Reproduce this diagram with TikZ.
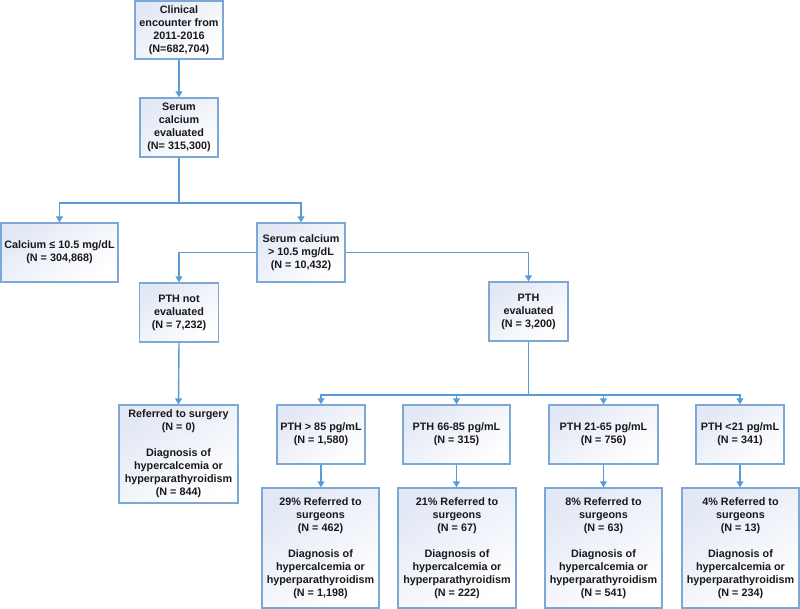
\documentclass[tikz,border=0pt]{standalone}
\usepackage{fontspec}
\setmainfont{Liberation Sans}
\usetikzlibrary{arrows.meta}
\definecolor{linec}{RGB}{91,155,213}
\definecolor{boxline}{RGB}{125,168,214}
\definecolor{boxfill}{RGB}{226,232,245}
\tikzset{
  box/.style={draw=boxline, line width=1.4pt, top color=boxfill, bottom color=white, shading angle=35,
    align=center, inner sep=0pt, font=\fontsize{10.8}{13}\selectfont\bfseries, text=black!90},
  conn/.style={draw=linec, line width=1.4pt},
  arr/.style={conn, -{Triangle[width=7pt,length=6pt]}}
}
\begin{document}
\begin{tikzpicture}[x=1pt,y=-1pt]
\useasboundingbox (0,0) rectangle (800,609);
\node[box, minimum width=88, minimum height=58] (n1) at (179,30) {Clinical\\encounter from\\2011-2016\\(N=682,704)};
\node[box, minimum width=78, minimum height=59] (n2) at (179,127.5) {Serum\\calcium\\evaluated\\(N= 315,300)};
\node[box, minimum width=117, minimum height=59] (n3) at (59.5,252.5) {Calcium ≤ 10.5 mg/dL\\(N = 304,868)};
\node[box, minimum width=88, minimum height=59] (n4) at (301,252.5) {Serum calcium\\> 10.5 mg/dL\\(N = 10,432)};
\node[box, minimum width=79, minimum height=59] (n5) at (179,312.5) {PTH not\\evaluated\\(N = 7,232)};
\node[box, minimum width=79, minimum height=59] (n6) at (528.5,311.5) {PTH\\evaluated\\(N = 3,200)};
\node[box, minimum width=119, minimum height=98] (n7) at (178.5,454) {Referred to surgery\\(N = 0)\\[13pt]Diagnosis of\\hypercalcemia or\\hyperparathyroidism\\(N = 844)};
\node[box, minimum width=88, minimum height=59] (n8) at (321,434.5) {PTH > 85 pg/mL\\(N = 1,580)};
\node[box, minimum width=107, minimum height=59] (n9) at (456.5,434.5) {PTH 66-85 pg/mL\\(N = 315)};
\node[box, minimum width=109, minimum height=59] (n10) at (603.5,434.5) {PTH 21-65 pg/mL\\(N = 756)};
\node[box, minimum width=88, minimum height=59] (n11) at (740,434.5) {PTH <21 pg/mL\\(N = 341)};
\node[box, minimum width=117, minimum height=120] (n12) at (320.5,548) {29\% Referred to\\surgeons\\(N = 462)\\[13pt]Diagnosis of\\hypercalcemia or\\hyperparathyroidism\\(N = 1,198)};
\node[box, minimum width=118, minimum height=120] (n13) at (457,548) {21\% Referred to\\surgeons\\(N = 67)\\[13pt]Diagnosis of\\hypercalcemia or\\hyperparathyroidism\\(N = 222)};
\node[box, minimum width=117, minimum height=120] (n14) at (603.5,548) {8\% Referred to\\surgeons\\(N = 63)\\[13pt]Diagnosis of\\hypercalcemia or\\hyperparathyroidism\\(N = 541)};
\node[box, minimum width=117, minimum height=120] (n15) at (740.5,548) {4\% Referred to\\surgeons\\(N = 13)\\[13pt]Diagnosis of\\hypercalcemia or\\hyperparathyroidism\\(N = 234)};
\coordinate (j1) at (179,203);
\coordinate (j2) at (528.5,395);
\draw[arr] (n1) -- (n2);
\draw[conn] (n2.south) -- (j1);
\draw[arr] (j1) -| (n3.north);
\draw[arr] (j1) -| (n4.north);
\draw[arr] (n4.west) -| (n5.north);
\draw[arr] (n4.east) -| (n6.north);
\draw[arr] (n5.south) -- (n7.north);
\draw[conn] (n6.south) -- (j2);
\draw[arr] (j2) -| (n8.north);
\draw[arr] (j2) -| (n9.north);
\draw[arr] (j2) -| (n10.north);
\draw[arr] (j2) -| (n11.north);
\draw[arr] (n8.south) -- (n8.south |- n12.north);
\draw[arr] (n9.south) -- (n9.south |- n13.north);
\draw[arr] (n10.south) -- (n10.south |- n14.north);
\draw[arr] (n11.south) -- (n11.south |- n15.north);
\end{tikzpicture}
\end{document}
